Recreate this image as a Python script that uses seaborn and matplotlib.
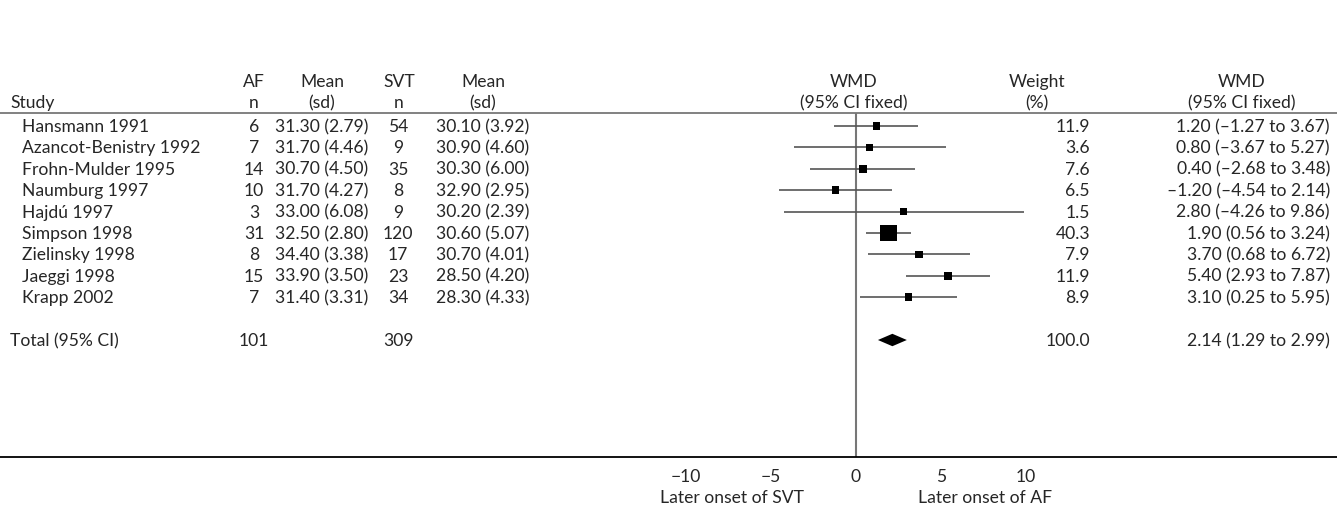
import numpy as np
import matplotlib
matplotlib.use("Agg")
import matplotlib.pyplot as plt
import seaborn as sns

studies = ["Hansmann 1991", "Azancot-Benistry 1992", "Frohn-Mulder 1995", "Naumburg 1997",
           "Hajdú 1997", "Simpson 1998", "Zielinsky 1998", "Jaeggi 1998", "Krapp 2002"]
af_n = [6, 7, 14, 10, 3, 31, 8, 15, 7]
af_mean = [31.30, 31.70, 30.70, 31.70, 33.00, 32.50, 34.40, 33.90, 31.40]
af_sd = [2.79, 4.46, 4.50, 4.27, 6.08, 2.80, 3.38, 3.50, 3.31]
svt_n = [54, 9, 35, 8, 9, 120, 17, 23, 34]
svt_mean = [30.10, 30.90, 30.30, 32.90, 30.20, 30.60, 30.70, 28.50, 28.30]
svt_sd = [3.92, 4.60, 6.00, 2.95, 2.39, 5.07, 4.01, 4.20, 4.33]
wmd = [1.20, 0.80, 0.40, -1.20, 2.80, 1.90, 3.70, 5.40, 3.10]
ci_lo = [-1.27, -3.67, -2.68, -4.54, -4.26, 0.56, 0.68, 2.93, 0.25]
ci_hi = [3.67, 5.27, 3.48, 2.14, 9.86, 3.24, 6.72, 7.87, 5.95]
weight = [11.9, 3.6, 7.6, 6.5, 1.5, 40.3, 7.9, 11.9, 8.9]

total_label = "Total (95% CI)"
total_af_n = 101
total_svt_n = 309
total_weight = 100.0
total_wmd = 2.14
total_lo = 1.29
total_hi = 2.99

xticks = [-10, -5, 0, 5, 10]

sns.set_style("white")
plt.rcParams["font.family"] = ["Lato", "DejaVu Sans"]
FS = 12.6


def fmt(v):
    s = f"{abs(v):.2f}"
    return ("\u2013" + s) if v < 0 else s


W, H = 1337, 506
fig = plt.figure(figsize=(W / 100, H / 100), dpi=100)
top_px, bot_px = 114, 458
ax = fig.add_axes([0, (H - bot_px) / H, 1, (bot_px - top_px) / H])

# x in WMD units: 0 at 856 px, 17 px per unit
x0, ppu = 856, 17.0
ax.set_xlim(-x0 / ppu, (W - x0) / ppu)
row0, step = 127, 21.4
y_top = (top_px - row0) / step
ax.set_ylim((bot_px - row0) / step, y_top)

rows = np.arange(len(studies))
total_row = len(studies) + 1

# forest marks
ax.axvline(0, color="#777777", lw=1.5, zorder=1)
ax.axhline(y_top, color="#777777", lw=1.3, clip_on=False, zorder=1)
ax.hlines(rows, ci_lo, ci_hi, color="#555555", lw=1.2, zorder=2)
side_px = np.maximum(7.5, 0.42 * np.array(weight))
sns.scatterplot(x=wmd, y=rows, marker="s", s=(side_px * 0.72) ** 2, color="black",
                linewidth=0, legend=False, ax=ax, zorder=3)
hd = 0.29
ax.fill([total_lo, total_wmd, total_hi, total_wmd],
        [total_row, total_row - hd, total_row, total_row + hd], color="black", lw=0, zorder=3)

# axes styling
for s in ["left", "right", "top"]:
    ax.spines[s].set_visible(False)
ax.spines["bottom"].set_color("black")
ax.spines["bottom"].set_linewidth(1.3)
ax.set_yticks([])
ax.set_xticks(xticks)
ax.tick_params(axis="x", direction="in", length=12, width=1, color="#666666",
               pad=8, labelsize=FS)

# table text: x in axes fraction (= figure fraction), y in row units
tr = ax.get_yaxis_transform()
def px(x):
    return x / W

kw = dict(transform=tr, clip_on=False, va="center", fontsize=FS)
h1, h2 = (82 - row0) / step, (103 - row0) / step
ax.text(px(10), h2, "Study", ha="left", **kw)
for cx, a, b in [(254, "AF", "n"), (322, "Mean", "(sd)"), (399, "SVT", "n"),
                 (483, "Mean", "(sd)"), (854, "WMD", "(95% CI fixed)"),
                 (1037, "Weight", "(%)"), (1242, "WMD", "(95% CI fixed)")]:
    ax.text(px(cx), h1, a, ha="center", **kw)
    ax.text(px(cx), h2, b, ha="center", **kw)

for i, name in enumerate(studies):
    ax.text(px(22), i, name, ha="left", **kw)
    ax.text(px(254), i, str(af_n[i]), ha="center", **kw)
    ax.text(px(322), i, f"{af_mean[i]:.2f} ({af_sd[i]:.2f})", ha="center", **kw)
    ax.text(px(398), i, str(svt_n[i]), ha="center", **kw)
    ax.text(px(483), i, f"{svt_mean[i]:.2f} ({svt_sd[i]:.2f})", ha="center", **kw)
    ax.text(px(1090), i, f"{weight[i]:.1f}", ha="right", **kw)
    ax.text(px(1330), i, f"{fmt(wmd[i])} ({fmt(ci_lo[i])} to {fmt(ci_hi[i])})", ha="right", **kw)

ax.text(px(10), total_row, total_label, ha="left", **kw)
ax.text(px(254), total_row, str(total_af_n), ha="center", **kw)
ax.text(px(398), total_row, str(total_svt_n), ha="center", **kw)
ax.text(px(1090), total_row, f"{total_weight:.1f}", ha="right", **kw)
ax.text(px(1330), total_row, f"{fmt(total_wmd)} ({fmt(total_lo)} to {fmt(total_hi)})", ha="right", **kw)

lab_y = (498 - row0) / step
ax.text(-7.3, lab_y, "Later onset of SVT", ha="center", va="center", fontsize=FS, clip_on=False)
ax.text(7.6, lab_y, "Later onset of AF", ha="center", va="center", fontsize=FS, clip_on=False)

fig.savefig("out.png", dpi=100)
